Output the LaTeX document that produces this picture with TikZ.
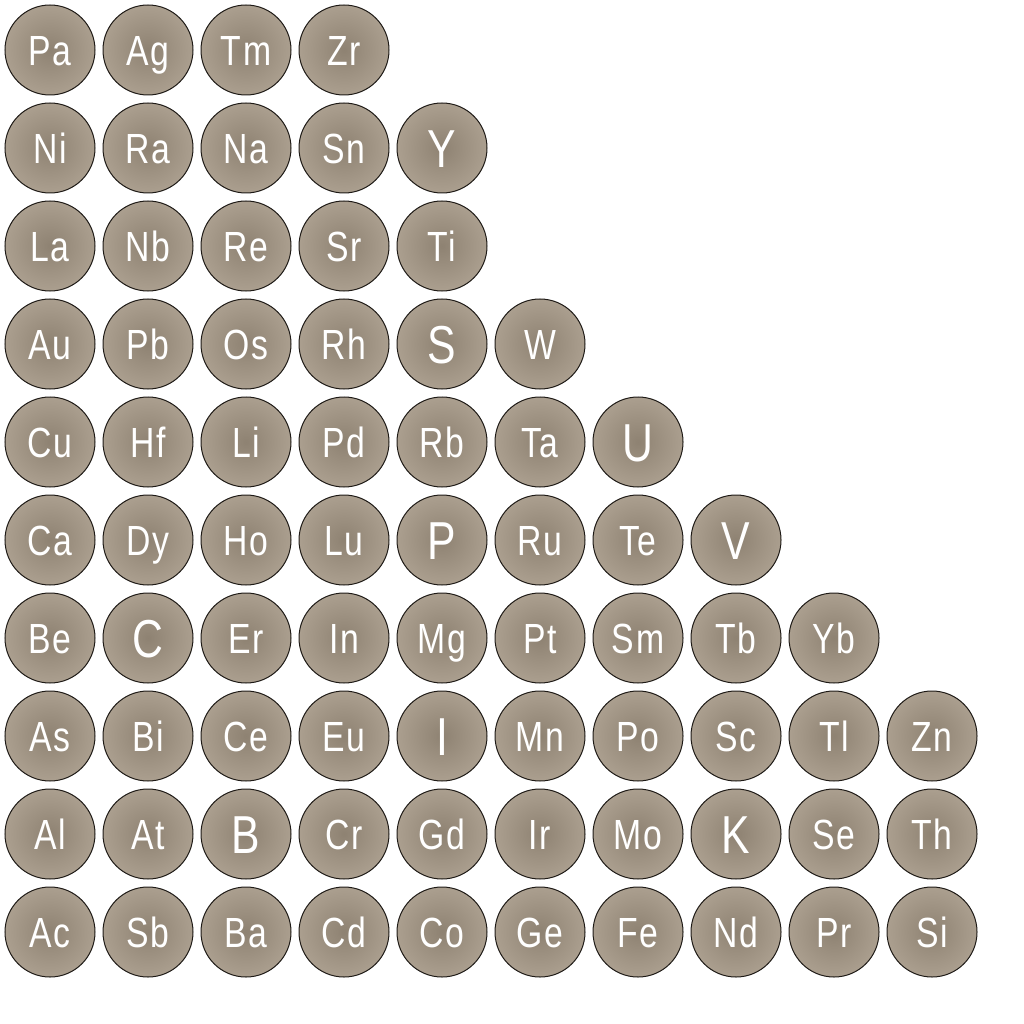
\documentclass[tikz,border=0pt]{standalone}
\usepackage{fontspec}
\newfontfamily\elfont[FakeStretch=0.8, LetterSpace=4]{Liberation Sans}
\definecolor{orbin}{HTML}{8E8272}
\definecolor{orbout}{HTML}{AB9F8F}
\definecolor{orbline}{HTML}{1E1A16}
\tikzset{
  orb/.style={circle, draw=orbline, line width=0.25mm, minimum size=22.5mm, inner sep=0pt,
    inner color=orbin, outer color=orbout, text=white,
    font=\elfont\fontsize{30pt}{30pt}\selectfont, text height=21.5pt, text depth=0pt},
  big/.style={font=\elfont\fontsize{38pt}{38pt}\selectfont, text height=27.2pt},
  el Y/.style=big, el S/.style=big, el U/.style=big, el P/.style=big,
  el V/.style=big, el C/.style=big, el I/.style=big, el B/.style=big,
  el K/.style=big,
}
\begin{document}
\begin{tikzpicture}[x=0.25mm, y=-0.25mm]
  \useasboundingbox (0,0) rectangle (1024,1024);
  % rows of elements, top to bottom
  \foreach \els [count=\r] in {{Pa,Ag,Tm,Zr},{Ni,Ra,Na,Sn,Y},{La,Nb,Re,Sr,Ti},
      {Au,Pb,Os,Rh,S,W},{Cu,Hf,Li,Pd,Rb,Ta,U},{Ca,Dy,Ho,Lu,P,Ru,Te,V},
      {Be,C,Er,In,Mg,Pt,Sm,Tb,Yb},{As,Bi,Ce,Eu,I,Mn,Po,Sc,Tl,Zn},
      {Al,At,B,Cr,Gd,Ir,Mo,K,Se,Th},{Ac,Sb,Ba,Cd,Co,Ge,Fe,Nd,Pr,Si}}
    \foreach \el [count=\c] in \els
      \node[orb, el \el/.try] (\el) at ({98*\c-48},{98*\r-48}) {\el};
\end{tikzpicture}
\end{document}
